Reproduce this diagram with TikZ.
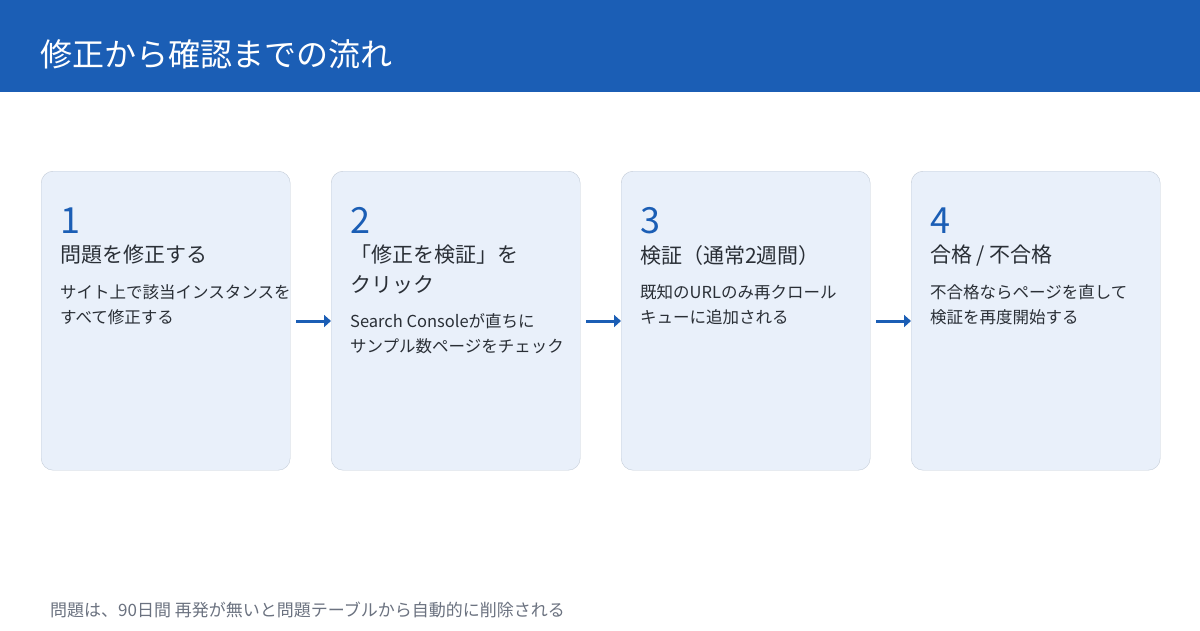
\documentclass[tikz,border=0pt]{standalone}
\usepackage{fontspec}
\setmainfont{Noto Sans CJK JP}
\usetikzlibrary{positioning,arrows.meta}
\definecolor{hdrblue}{HTML}{1B5EB5}
\definecolor{boxfill}{HTML}{E9F0FA}
\definecolor{boxline}{HTML}{C3CCD8}
\definecolor{txtdark}{HTML}{2A2F36}
\definecolor{txtgrey}{HTML}{6B7280}
\begin{document}
\begin{tikzpicture}[
  x=1pt, y=-1pt,
  card/.style = {
    rectangle,
    draw=boxline,
    fill=boxfill,
    rounded corners=12pt,
    minimum width=249pt,
    minimum height=299pt,
    anchor=north west
  },
  num/.style = {anchor=base west, inner sep=0pt, text=hdrblue, font=\fontsize{36}{40}\selectfont},
  head/.style = {anchor=north west, inner sep=0pt, text=txtdark, align=left, font=\fontsize{21}{30}\selectfont},
  body/.style = {anchor=north west, inner sep=0pt, text=txtdark, align=left, font=\fontsize{16.5}{25}\selectfont},
  arr/.style = {draw=hdrblue, line width=3pt, -{Triangle[length=7pt,width=12pt]}},
  ]
  \useasboundingbox (0,0) rectangle (1200,630);
  \fill[white] (0,0) rectangle (1200,630);
  \fill[hdrblue] (0,0) rectangle (1200,92);
  \node[anchor=west, inner sep=0pt, text=white, font=\fontsize{32}{36}\selectfont] (title) at (40,54) {修正から確認までの流れ};

  \node[card] (s1) at (41,171) {};
  \node[card] (s2) at (331,171) {};
  \node[card] (s3) at (621,171) {};
  \node[card] (s4) at (911,171) {};

  % step 1
  \node[num] (n1) at (60,233) {1};
  \node[head] (h1) at (60,245) {問題を修正する};
  \node[body] (b1) at (60,284) {サイト上で該当インスタンスを\\すべて修正する};
  % step 2
  \node[num] (n2) at (350,233) {2};
  \node[head] (h2) at (350,245) {「修正を検証」を\\クリック};
  \node[body] (b2) at (350,313) {Search Consoleが直ちに\\サンプル数ページをチェック};
  % step 3
  \node[num] (n3) at (640,233) {3};
  \node[head] (h3) at (640,245) {検証（通常2週間）};
  \node[body] (b3) at (640,284) {既知のURLのみ再クロール\\キューに追加される};
  % step 4
  \node[num] (n4) at (930,233) {4};
  \node[head] (h4) at (930,245) {合格 / 不合格};
  \node[body] (b4) at (930,284) {不合格ならページを直して\\検証を再度開始する};

  \coordinate (a1) at (296,321);
  \coordinate (a2) at (586,321);
  \coordinate (a3) at (876,321);
  \draw[arr] (a1) -- (s2.west |- a1);
  \draw[arr] (a2) -- (s3.west |- a2);
  \draw[arr] (a3) -- (s4.west |- a3);

  \node[anchor=west, inner sep=0pt, text=txtgrey, font=\fontsize{17}{20}\selectfont] (note) at (50,610) {問題は、90日間 再発が無いと問題テーブルから自動的に削除される};
\end{tikzpicture}
\end{document}
